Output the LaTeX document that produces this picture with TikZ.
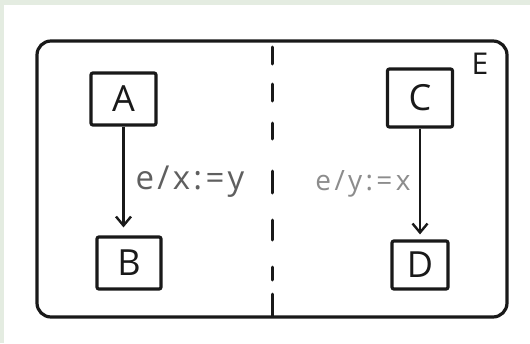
\documentclass[tikz,border=0pt]{standalone}
\usepackage{fontspec}
\setmainfont{Open Sans}
\usetikzlibrary{arrows.meta}
\definecolor{bgreen}{RGB}{228,236,225}
\definecolor{ink}{RGB}{25,25,25}
\definecolor{lblA}{RGB}{95,95,95}
\definecolor{lblB}{RGB}{140,140,140}
\tikzset{
  statebox/.style={draw=ink, line width=3.2pt, rounded corners=2pt, inner sep=0pt,
    font=\fontsize{36}{40}\selectfont, text=ink},
  trans/.style={draw=ink, line width=2.4pt, -{Straight Barb[length=9pt,width=15pt,line width=2.4pt]}},
  lbl/.style={inner sep=0pt},
  divider/.style={draw=ink, line width=3pt, line cap=round},
}
\begin{document}
\begin{tikzpicture}[x=1pt,y=-1pt]
\useasboundingbox (0,0) rectangle (530,343);
\fill[bgreen] (0,0) rectangle (530,343);
\fill[white] (4,5) rectangle (530,343);
% outer region
\draw[ink, line width=3.2pt, rounded corners=14pt] (37,41) rectangle (507,317);
\node[font=\fontsize{30}{34}\selectfont, text=ink] (E) at (480,64) {E};
% dashed divider
\foreach \a/\b in {47/64, 84/101, 123/139, 171/193, 220/240, 267/280, 294/316}
  \draw[divider] (272,\a) -- (272,\b);
% states
\node[statebox, minimum width=65pt, minimum height=52pt] (A) at (123.5,99) {A};
\node[statebox, minimum width=64pt, minimum height=52pt] (B) at (129,263) {B};
\node[statebox, minimum width=65pt, minimum height=58pt] (C) at (420,98) {C};
\node[statebox, minimum width=56pt, minimum height=48pt] (D) at (420,265) {D};
% transitions
\draw[trans, shorten >=8pt] (A.south) -- (A.south |- B.north);
\draw[trans, shorten >=5pt] (C.south) -- (C.south |- D.north);
\node[lbl, text=lblA, font=\fontsize{33}{36}\selectfont\addfontfeature{LetterSpace=10}] (L1) at (190,182) {e/x:=y};
\node[lbl, text=lblB, font=\fontsize{28}{32}\selectfont\addfontfeature{LetterSpace=12}] (L2) at (363,184) {e/y:=x};
\end{tikzpicture}
\end{document}
